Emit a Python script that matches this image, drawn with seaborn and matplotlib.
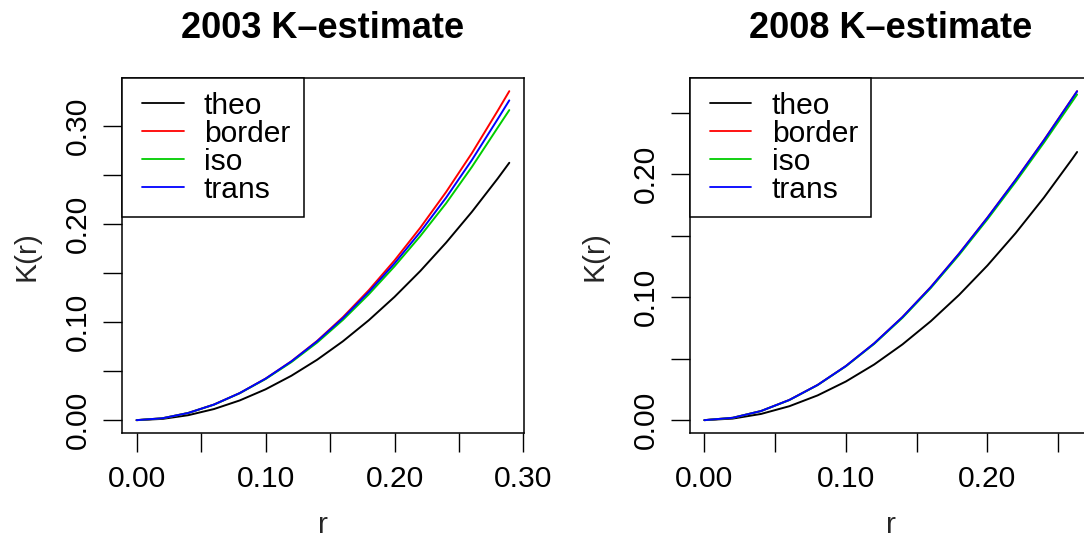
import numpy as np
import pandas as pd
import matplotlib
matplotlib.use("Agg")
import matplotlib.pyplot as plt
import seaborn as sns
from matplotlib.legend_handler import HandlerLine2D
from matplotlib.lines import Line2D

# ---------------- data ----------------
series_names = ["theo", "border", "iso", "trans"]
series_colors = ["#000000", "#FF0000", "#00CD00", "#0000FF"]

r_2003 = [0.0, 0.02, 0.04, 0.06, 0.08, 0.10, 0.12, 0.14, 0.16, 0.18, 0.20,
          0.22, 0.24, 0.26, 0.28, 0.289]
theo_2003 = [0.0, 0.00126, 0.00503, 0.01131, 0.02011, 0.03142, 0.04524, 0.06158,
             0.08042, 0.10179, 0.12566, 0.15205, 0.18096, 0.21237, 0.24630, 0.26239]
border_2003 = [0.0, 0.0019, 0.0073, 0.0159, 0.0276, 0.0423, 0.0600, 0.0808,
               0.1050, 0.1324, 0.1628, 0.1962, 0.2326, 0.2722, 0.3154, 0.3354]
iso_2003 = [0.0, 0.0019, 0.0073, 0.0158, 0.0275, 0.0419, 0.0591, 0.0791,
            0.1022, 0.1282, 0.1568, 0.1877, 0.2211, 0.2582, 0.2982, 0.3161]
trans_2003 = [0.0, 0.0019, 0.0073, 0.0159, 0.0276, 0.0423, 0.0599, 0.0804,
              0.1040, 0.1306, 0.1598, 0.1919, 0.2268, 0.2652, 0.3069, 0.3260]

r_2008 = [0.0, 0.02, 0.04, 0.06, 0.08, 0.10, 0.12, 0.14, 0.16, 0.18, 0.20,
          0.22, 0.24, 0.26, 0.2634]
theo_2008 = [0.0, 0.00126, 0.00503, 0.01131, 0.02011, 0.03142, 0.04524, 0.06158,
             0.08042, 0.10179, 0.12566, 0.15205, 0.18096, 0.21237, 0.21796]
border_2008 = [0.0, 0.0019, 0.0074, 0.0164, 0.0286, 0.0440, 0.0624, 0.0838,
               0.1082, 0.1354, 0.1646, 0.1954, 0.2277, 0.2616, 0.2674]
iso_2008 = [0.0, 0.0019, 0.0074, 0.0163, 0.0285, 0.0438, 0.0620, 0.0832,
            0.1074, 0.1343, 0.1632, 0.1937, 0.2256, 0.2590, 0.2647]
trans_2008 = [0.0, 0.0019, 0.0074, 0.0164, 0.0286, 0.0440, 0.0624, 0.0838,
              0.1081, 0.1353, 0.1645, 0.1953, 0.2275, 0.2615, 0.2673]

titles = ["2003 K\u2013estimate", "2008 K\u2013estimate"]
xlabel = "r"
ylabel = "K(r)"
tick_step = 0.05
label_step = 0.10

# ---------------- style ----------------
sns.set_theme(style="white")
plt.rcParams["font.family"] = ["Liberation Sans", "DejaVu Sans"]
plt.rcParams["axes.edgecolor"] = "black"
plt.rcParams["axes.linewidth"] = 1.1
plt.rcParams["xtick.color"] = "black"
plt.rcParams["ytick.color"] = "black"
plt.rcParams["text.color"] = "black"

FS = 21.6
TFS = 26

fig = plt.figure(figsize=(10.84, 5.41), dpi=100)
fig.patch.set_facecolor("white")

W, H = 1084.0, 541.0
ax_w = 402.5 / W
ax_b = (H - 433.3) / H
ax_h = (433.3 - 78.0) / H
lefts = [121.7 / W, 689.5 / W]


def long_df(r, theo, border, iso, trans):
    frames = []
    for name, vals in zip(series_names, [theo, border, iso, trans]):
        frames.append(pd.DataFrame({"r": r, "K": vals, "est": name}))
    return pd.concat(frames, ignore_index=True)


panels = [
    long_df(r_2003, theo_2003, border_2003, iso_2003, trans_2003),
    long_df(r_2008, theo_2008, border_2008, iso_2008, trans_2008),
]

palette = dict(zip(series_names, series_colors))


def labs(vals):
    out = []
    for v in vals:
        if abs(round(v / label_step) * label_step - v) < 1e-9:
            out.append(f"{v:.2f}")
        else:
            out.append("")
    return out


for i, df in enumerate(panels):
    ax = fig.add_axes([lefts[i], ax_b, ax_w, ax_h])
    ax.set_facecolor("white")
    sns.lineplot(data=df, x="r", y="K", hue="est", hue_order=series_names,
                 palette=palette, estimator=None, sort=True, linewidth=1.4,
                 ax=ax, legend=True)

    xmax = df["r"].max()
    ymax = df["K"].max()
    x_hi = 1.04 * xmax
    y_hi = 1.04 * ymax
    ax.set_xlim(-0.04 * xmax, x_hi)
    ax.set_ylim(-0.04 * ymax, y_hi)

    xt = np.arange(0, x_hi + 1e-9, tick_step)
    yt = np.arange(0, y_hi + 1e-9, tick_step)
    ax.set_xticks(xt)
    ax.set_xticklabels(labs(xt), fontsize=FS)
    ax.set_yticks(yt)
    ax.set_yticklabels(labs(yt), fontsize=FS, rotation=90, va="center")
    ax.tick_params(axis="both", which="major", direction="out", length=13.5,
                   width=1.0, color="black", bottom=True, left=True)
    ax.tick_params(axis="x", pad=9.5)
    ax.tick_params(axis="y", pad=8)

    for s in ax.spines.values():
        s.set_visible(True)
        s.set_color("black")
        s.set_linewidth(1.1)

    ax.set_xlabel(xlabel, fontsize=FS, labelpad=13)
    ax.set_ylabel(ylabel, fontsize=FS, labelpad=16.5)
    ax.set_title(titles[i], fontsize=TFS, fontweight="bold", pad=29)

    handles, labels = ax.get_legend_handles_labels()
    ax.get_legend().remove()
    leg = ax.legend(handles, labels, loc="upper left", bbox_to_anchor=(0.0, 1.0),
                    bbox_transform=ax.transAxes, borderaxespad=0.0,
                    fontsize=FS, frameon=True, fancybox=False, shadow=False,
                    borderpad=0.45, labelspacing=0.0, handlelength=1.61,
                    handletextpad=0.68,
                    handler_map={Line2D: HandlerLine2D(xpad=0.22)})
    fr = leg.get_frame()
    fr.set_edgecolor("black")
    fr.set_linewidth(1.1)
    fr.set_facecolor("white")
    fr.set_alpha(1.0)
    for lh in leg.get_lines():
        lh.set_linewidth(1.3)

fig.savefig("out.png", dpi=100, facecolor="white")
